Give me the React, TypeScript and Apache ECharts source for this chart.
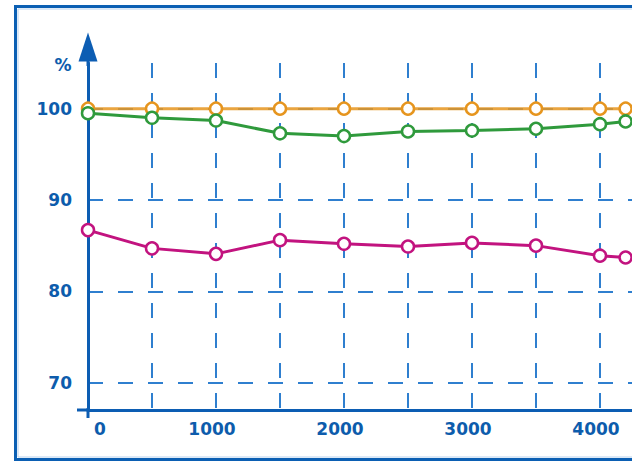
import React, { useEffect, useRef } from "react";
import * as echarts from "echarts";

const xValues = [0, 500, 1000, 1500, 2000, 2500, 3000, 3500, 4000, 4200];
const orangeValues = [100, 100, 100, 100, 100, 100, 100, 100, 100, 100];
const greenValues = [99.5, 99.0, 98.7, 97.3, 97.0, 97.5, 97.6, 97.8, 98.3, 98.6];
const magentaValues = [86.7, 84.7, 84.1, 85.6, 85.2, 84.9, 85.3, 85.0, 83.9, 83.7];
const yTickValues = [70, 80, 90, 100];
const xLabelValues = [0, 1000, 2000, 3000, 4000];
const yUnit = "%";

const AXIS = "#0c5db3";
const GRID = "#2f7fcf";
const LABEL = "#0d5cac";
const FONT = "DejaVu Sans";

function pairs(vals: number[]) {
  return xValues.map((x, i) => [x, vals[i]]);
}

function lineSeries(name: string, color: string, vals: number[], opacity = 1) {
  return {
    name,
    type: "line",
    data: pairs(vals),
    symbol: "circle",
    symbolSize: 12,
    lineStyle: { color, width: 3, opacity },
    itemStyle: { color: "#ffffff", borderColor: color, borderWidth: 2.5 },
    emphasis: { disabled: true },
    z: 3,
  };
}

export default function App() {
  const ref = useRef<HTMLDivElement>(null);
  useEffect(() => {
    if (!ref.current) return;
    const chart = echarts.init(ref.current, null, { renderer: "svg" });
    const labelStyle = {
      color: LABEL,
      fontFamily: FONT,
      fontWeight: "bold",
      fontSize: 17,
    };
    chart.setOption({
      animation: false,
      backgroundColor: "#ffffff",
      grid: { left: 88, top: 63, width: 576, height: 347 },
      xAxis: {
        type: "value",
        min: 0,
        max: 4500,
        interval: 500,
        axisLine: { show: true, onZero: false, lineStyle: { color: AXIS, width: 3 } },
        axisTick: { show: false },
        axisLabel: {
          ...labelStyle,
          margin: 10,
          customValues: xLabelValues,
          formatter: (v: number) => (v === 0 ? "{z|0}" : `{n|${v}}`),
          rich: {
            z: { ...labelStyle, padding: [0, 0, 0, 24] },
            n: { ...labelStyle, padding: [0, 8, 0, 0] },
          },
        },
        splitLine: { show: true, lineStyle: { color: GRID, width: 2, type: [15, 15] } },
      },
      yAxis: {
        type: "value",
        min: 67,
        max: 105,
        axisLine: {
          show: true,
          onZero: false,
          symbol: ["none", "triangle"],
          symbolSize: [19, 29],
          symbolOffset: [0, 16],
          lineStyle: { color: AXIS, width: 3 },
        },
        axisTick: { show: false, customValues: yTickValues },
        axisLabel: { ...labelStyle, margin: 16, customValues: yTickValues },
        splitLine: { show: true, lineStyle: { color: GRID, width: 2, type: [15, 15] } },
      },
      series: [
        lineSeries("orange", "#e6951e", orangeValues, 0.85),
        lineSeries("green", "#2f9a3c", greenValues),
        lineSeries("magenta", "#c2137f", magentaValues),
      ],
      graphic: [
        {
          type: "rect",
          shape: { x: 15.5, y: 6.5, width: 800, height: 453 },
          style: { fill: "none", stroke: "#0b5fb3", lineWidth: 3 },
          silent: true,
        },
        {
          type: "rect",
          shape: { x: 18, y: 9, width: 800, height: 448 },
          style: { fill: "none", stroke: "#b8d2ee", lineWidth: 1 },
          silent: true,
        },
        {
          type: "line",
          shape: { x1: 77, y1: 410, x2: 88, y2: 410 },
          style: { stroke: AXIS, lineWidth: 3 },
          silent: true,
        },
        {
          type: "line",
          shape: { x1: 88, y1: 408, x2: 88, y2: 418 },
          style: { stroke: AXIS, lineWidth: 3 },
          silent: true,
        },
        {
          type: "line",
          shape: { x1: 88, y1: 66, x2: 88, y2: 56 },
          style: { stroke: AXIS, lineWidth: 3 },
          silent: true,
        },
        {
          type: "text",
          x: 63,
          y: 65,
          style: {
            text: yUnit,
            fill: LABEL,
            font: `bold 17px "${FONT}"`,
            align: "center",
            verticalAlign: "middle",
          },
          silent: true,
        },
      ],
    });
    return () => chart.dispose();
  }, []);
  return (
    <div
      style={{
        position: "fixed",
        left: 0,
        top: 0,
        width: 632,
        height: 462,
        overflow: "hidden",
        background: "#fff",
      }}
    >
      <div ref={ref} style={{ width: 720, height: 462 }} />
    </div>
  );
}
